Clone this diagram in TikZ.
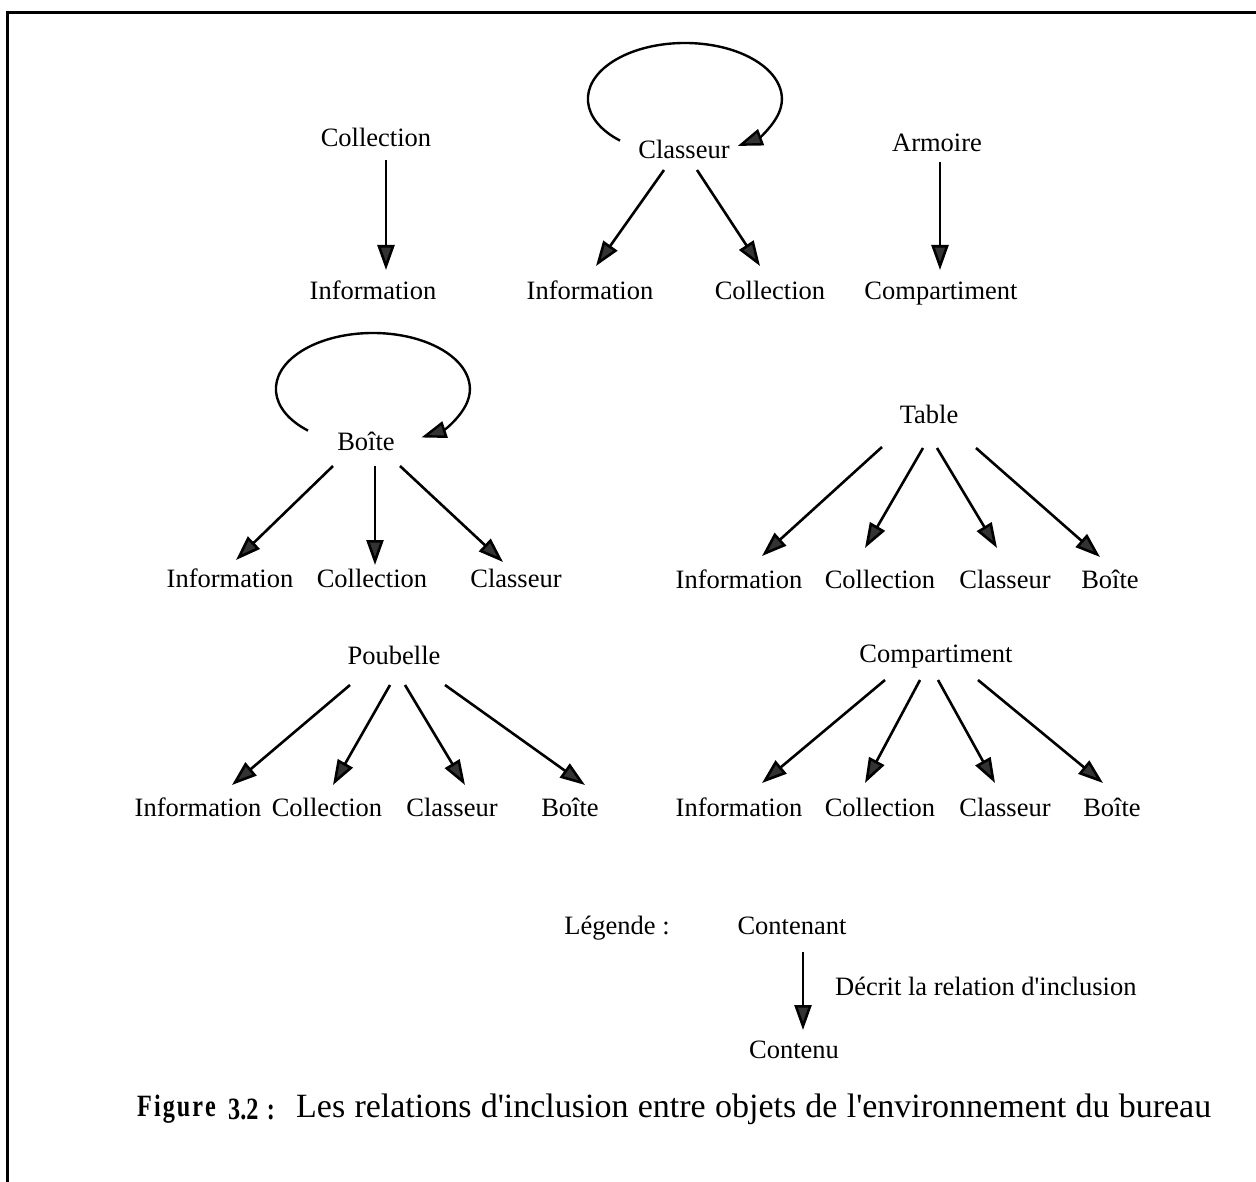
\documentclass[tikz,border=0pt]{standalone}
\usepackage{fontspec}
\setmainfont{Liberation Serif}[Ligatures=TeXOff]
\usetikzlibrary{arrows.meta}
\begin{document}
\begin{tikzpicture}[x=1pt,y=1pt,
  lbl/.style={inner sep=0pt,text height=18pt,text depth=1pt,font=\fontsize{26.5}{30}\selectfont},
  arr/.style={line width=2.6pt,-{Triangle[length=25pt,width=17pt,fill=black!80]}},
  looparr/.style={line width=2.4pt,-{Triangle[length=25pt,width=17pt,fill=black!80]}},
  capbold/.style={inner sep=0pt,anchor=west,font=\fontsize{31}{34}\selectfont\bfseries}]
\useasboundingbox (0,0) rectangle (1256,-1182);
% frame (left and top edges)
\draw[line width=3.5pt] (7.5,-1182) -- (7.5,-12.5) -- (1256,-12.5);
\newcommand\lnk[4]{\draw[arr] ([shift={(#2)}]#1.center) -- ([shift={(#4)}]#3.center);}

% --- Collection ---
\node[lbl] (c1) at (376,-138) {Collection};
\node[lbl] (i1) at (373,-291) {Information};
\lnk{c1}{10,-22}{i1}{13,21}

% --- Classeur ---
\node[lbl] (cl) at (684,-150) {Classeur};
\node[lbl] (i2) at (590,-291) {Information};
\node[lbl] (co2) at (770,-291) {Collection};
\lnk{cl}{-20,-20}{i2}{6,25}
\lnk{cl}{13,-20}{co2}{-10,25}
\draw[looparr] ([shift={(-64,9.4)}]cl.center)
  arc[start angle=228,end angle=-57,x radius=97,y radius=56];

% --- Armoire ---
\node[lbl] (ar) at (937,-143) {Armoire};
\node[lbl] (cp) at (941,-291) {Compartiment};
\lnk{ar}{3,-19}{cp}{-1,21}

% --- Boîte ---
\node[lbl] (bo) at (366,-442) {Boîte};
\node[lbl] (i3) at (230,-579) {Information};
\node[lbl] (co3) at (372,-579) {Collection};
\node[lbl] (cs3) at (516,-579) {Classeur};
\lnk{bo}{-33,-24}{i3}{6,19}
\lnk{bo}{9,-24}{co3}{3,14}
\lnk{bo}{34,-24}{cs3}{-13,17}
\draw[looparr] ([shift={(-58,11.4)}]bo.center)
  arc[start angle=228,end angle=-60,x radius=97,y radius=56];

% --- Table ---
\node[lbl] (tb) at (929,-415) {Table};
\node[lbl] (i4) at (739,-580) {Information};
\node[lbl] (co4) at (880,-580) {Collection};
\node[lbl] (cs4) at (1005,-580) {Classeur};
\node[lbl] (bx4) at (1110,-580) {Boîte};
\lnk{tb}{-47,-32}{i4}{23,24}
\lnk{tb}{-6,-33}{co4}{-15,32}
\lnk{tb}{8,-33}{cs4}{-8,32}
\lnk{tb}{47,-33}{bx4}{-10,23}

% --- Poubelle ---
\node[lbl] (pb) at (394,-656) {Poubelle};
\node[lbl] (i5) at (198,-808) {Information};
\node[lbl] (co5) at (327,-808) {Collection};
\node[lbl] (cs5) at (452,-808) {Classeur};
\node[lbl] (bx5) at (570,-808) {Boîte};
\lnk{pb}{-44,-29}{i5}{34,23}
\lnk{pb}{-4,-29}{co5}{6,23}
\lnk{pb}{11,-29}{cs5}{13,23}
\lnk{pb}{51,-29}{bx5}{15,23}

% --- Compartiment ---
\node[lbl] (cm) at (936,-654) {Compartiment};
\node[lbl] (i6) at (739,-808) {Information};
\node[lbl] (co6) at (880,-808) {Collection};
\node[lbl] (cs6) at (1005,-808) {Classeur};
\node[lbl] (bx6) at (1112,-808) {Boîte};
\lnk{cm}{-51,-26}{i6}{23,25}
\lnk{cm}{-16,-26}{co6}{-15,25}
\lnk{cm}{2,-26}{cs6}{-10,25}
\lnk{cm}{42,-26}{bx6}{-9,25}

% --- legend ---
\node[lbl] (lg) at (617,-926) {Légende :};
\node[lbl] (ct) at (792,-926) {Contenant};
\node[lbl] (cu) at (794,-1050) {Contenu};
\lnk{ct}{11,-26}{cu}{9,20}
\node[lbl,anchor=west] (dsc) at (835,-987) {Décrit la relation d'inclusion};

% --- caption ---
\node[capbold] (fg) at (137,-1109)
  {\scalebox{0.78}[1]{\makebox[101pt][s]{F\hfill i\hfill g\hfill u\hfill r\hfill e}}};
\node[capbold] (fn) at (228,-1109)
  {\scalebox{0.78}[1]{\makebox[60pt][s]{3.2\hfill :}}};
\node[inner sep=0pt,anchor=west,font=\fontsize{34}{38}\selectfont] (cap) at (296,-1109)
  {\makebox[915pt][s]{Les relations d'inclusion entre objets de l'environnement du bureau}};
\end{tikzpicture}
\end{document}
